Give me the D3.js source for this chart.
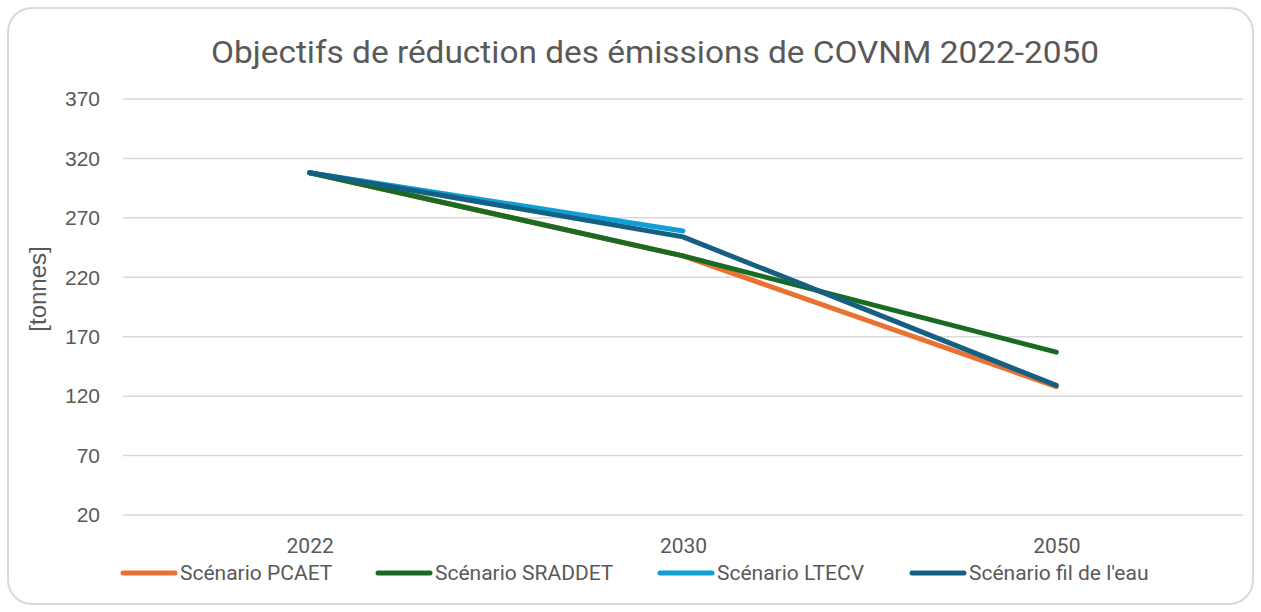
<!DOCTYPE html>
<html>
<head>
<meta charset="utf-8">
<script src="https://cdn.jsdelivr.net/npm/d3@7"></script>
<style>
  body { margin: 0; background: #fff; }
  svg text { fill: #595959; }
</style>
</head>
<body>
<svg id="chart"></svg>
<script>
const width = 1261;
const height = 612;

// données
const years = ["2022", "2030", "2050"];
const pcaet = [308, 238, 128];
const sraddet = [308, 238, 157];
const ltecv = [308, 259, null];
const filEau = [308, 254, 129];
const yTicks = [20, 70, 120, 170, 220, 270, 320, 370];

const series = [
  { name: "Scénario PCAET", values: pcaet, color: "#E97132" },
  { name: "Scénario SRADDET", values: sraddet, color: "#196B24" },
  { name: "Scénario LTECV", values: ltecv, color: "#0F9ED5" },
  { name: "Scénario fil de l'eau", values: filEau, color: "#156082" }
];

const narrow = "'Roboto', sans-serif";
const arial = "'Liberation Sans', Arial, sans-serif";

const svg = d3.select("#chart").attr("width", width).attr("height", height);

// cadre
svg.append("rect")
  .attr("x", 8).attr("y", 8)
  .attr("width", 1245).attr("height", 596)
  .attr("rx", 24)
  .attr("fill", "#fff")
  .attr("stroke", "#d9d9d9")
  .attr("stroke-width", 2);

// titre
svg.append("text")
  .attr("x", 655).attr("y", 63)
  .attr("text-anchor", "middle")
  .attr("font-family", narrow)
  .attr("font-size", 32)
  .attr("textLength", 888)
  .attr("lengthAdjust", "spacingAndGlyphs")
  .text("Objectifs de réduction des émissions de COVNM 2022-2050");

const x = d3.scalePoint().domain(years).range([123, 1243]).padding(0.5);
const y = d3.scaleLinear().domain([20, 370]).range([515, 99]);

// grille
svg.append("g")
  .selectAll("line")
  .data(yTicks)
  .enter()
  .append("line")
  .attr("x1", 123).attr("x2", 1243)
  .attr("y1", d => y(d)).attr("y2", d => y(d))
  .attr("stroke", "#d9d9d9")
  .attr("stroke-width", 1.5);

// axe y
const yAxis = svg.append("g")
  .attr("transform", "translate(100,0)")
  .call(d3.axisLeft(y).tickValues(yTicks).tickSize(0).tickPadding(0));
yAxis.select(".domain").remove();
yAxis.selectAll("text")
  .attr("font-family", arial)
  .attr("font-size", 21)
  .attr("fill", "#595959");

svg.append("text")
  .attr("transform", "translate(38,289) rotate(-90)")
  .attr("text-anchor", "middle")
  .attr("dy", "0.35em")
  .attr("font-family", arial)
  .attr("font-size", 24)
  .text("[tonnes]");

// axe x
const xAxis = svg.append("g")
  .attr("transform", "translate(0,538)")
  .call(d3.axisBottom(x).tickSize(0).tickPadding(0));
xAxis.select(".domain").remove();
xAxis.selectAll("text")
  .attr("font-family", narrow)
  .attr("font-size", 21)
  .attr("fill", "#595959");

// courbes
const line = d3.line()
  .defined(d => d.v != null)
  .x(d => x(d.year))
  .y(d => y(d.v));

svg.append("g")
  .selectAll("path")
  .data(series)
  .enter()
  .append("path")
  .attr("d", s => line(years.map((yr, i) => ({ year: yr, v: s.values[i] }))))
  .attr("fill", "none")
  .attr("stroke", s => s.color)
  .attr("stroke-width", 5)
  .attr("stroke-linecap", "round")
  .attr("stroke-linejoin", "round");

// légende
const legendX = [121, 376, 658, 910];
const legend = svg.append("g")
  .selectAll("g")
  .data(series)
  .enter()
  .append("g")
  .attr("transform", (d, i) => `translate(${legendX[i]},573)`);

legend.append("line")
  .attr("x1", 2).attr("x2", 54)
  .attr("stroke", d => d.color)
  .attr("stroke-width", 5)
  .attr("stroke-linecap", "round");

legend.append("text")
  .attr("x", 59)
  .attr("y", 7)
  .attr("font-family", narrow)
  .attr("font-size", 21)
  .text(d => d.name);
</script>
</body>
</html>
